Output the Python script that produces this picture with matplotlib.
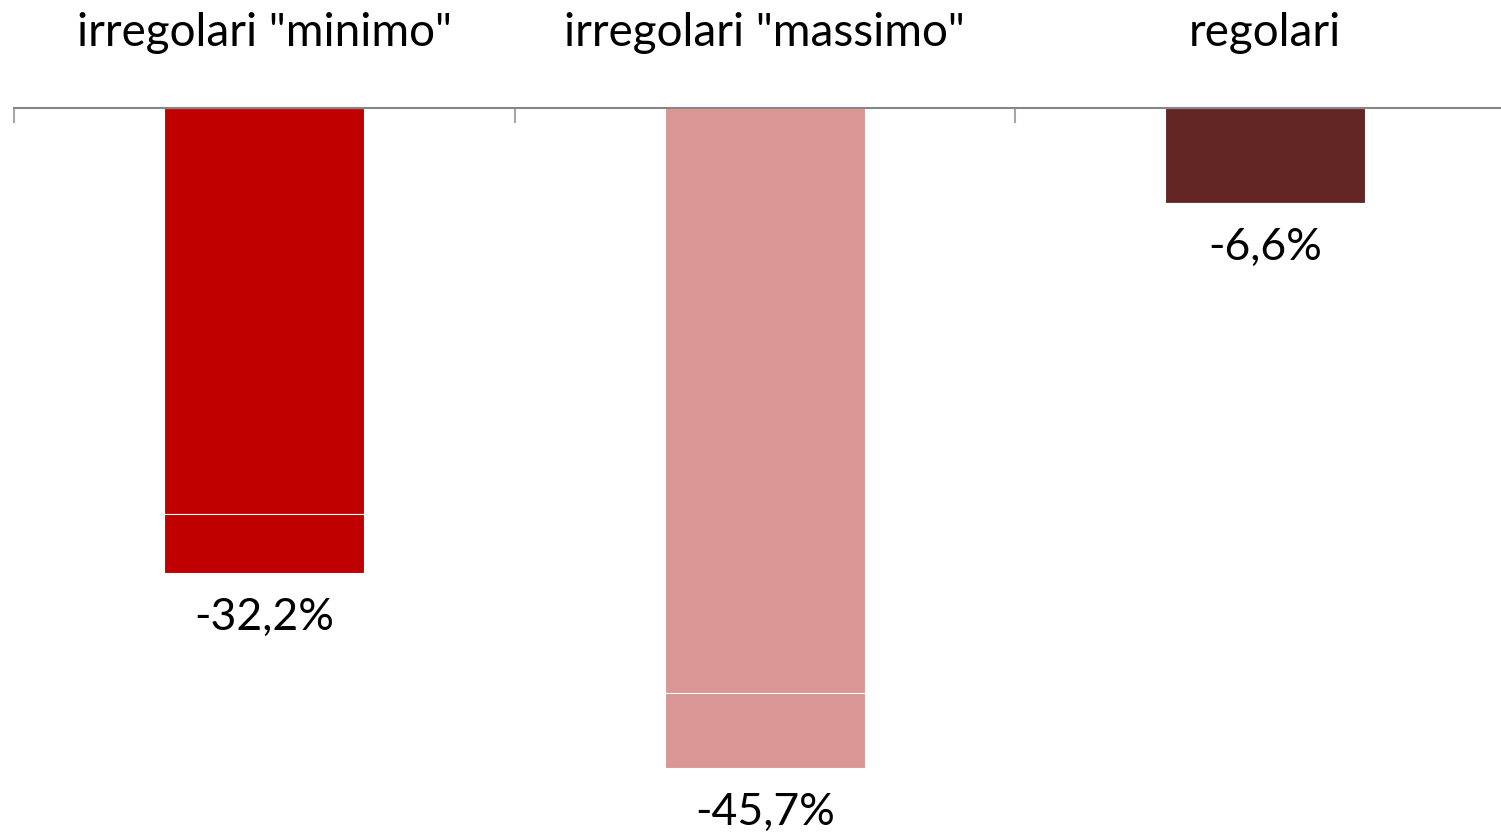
import matplotlib
matplotlib.use("Agg")
import matplotlib.pyplot as plt

# categorie e valori (%)
categorie = ['irregolari "minimo"', 'irregolari "massimo"', 'regolari']
totali = [-32.2, -45.7, -6.6]
parte_1 = [-28.1, -40.5, -6.6]
parte_2 = [-4.1, -5.2, 0.0]
colori = ['#C00000', '#D99694', '#632523']
etichette = ['-32,2%', '-45,7%', '-6,6%']

plt.rcParams['font.family'] = ['Lato', 'DejaVu Sans']

W, H = 1501, 832
fig = plt.figure(figsize=(W / 100, H / 100), dpi=100)
# area del grafico: asse a y=108 px dall'alto, da x=14 px
ax = fig.add_axes([14 / W, 0, 1501.5 / W, (H - 108) / H])

x = range(len(categorie))
ax.bar(x, parte_1, width=0.4, color=colori, edgecolor='white', linewidth=0.8)
ax.bar(x, parte_2, width=0.4, bottom=parte_1, color=colori, edgecolor='white', linewidth=0.8)

for i, (v, t) in enumerate(zip(totali, etichette)):
    ax.annotate(t, (i, v), xytext=(0, -44), textcoords='offset pixels',
                ha='center', va='center', fontsize=32, color='black')

ax.set_xlim(-0.5, 2.5)
ax.set_ylim(-50.1, 0)

for s in ['left', 'right', 'bottom']:
    ax.spines[s].set_visible(False)
ax.spines['top'].set_color('#868686')
ax.spines['top'].set_linewidth(1.5)

ax.xaxis.tick_top()
ax.set_xticks(list(x))
ax.set_xticklabels(categorie, fontsize=33)
ax.tick_params(axis='x', which='major', length=0, pad=39)
ax.set_xticks([-0.5, 0.5, 1.5], minor=True)
ax.tick_params(axis='x', which='minor', direction='in', length=11, width=1.5, color='#A6A6A6')
ax.set_yticks([])

fig.savefig('out.png', dpi=100)
